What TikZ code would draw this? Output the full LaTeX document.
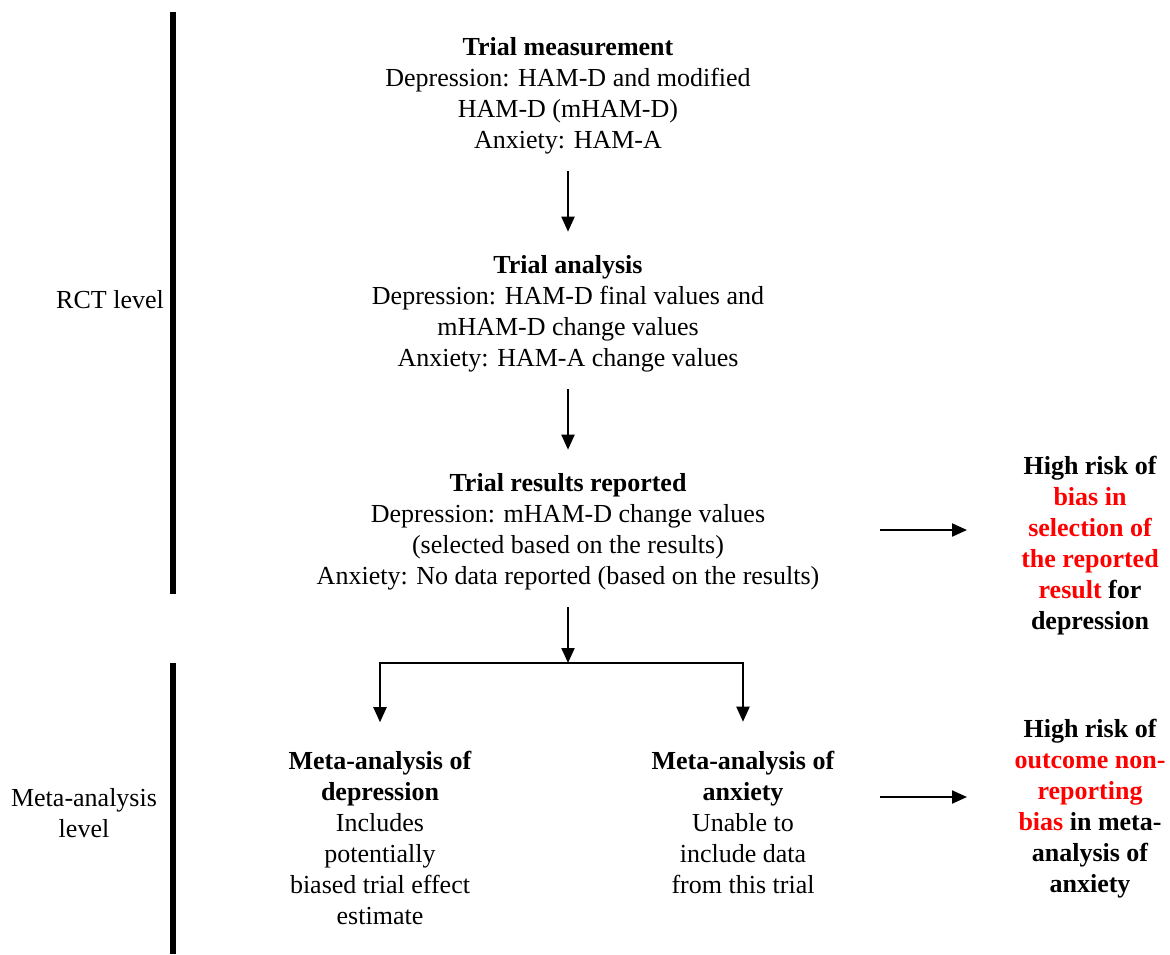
\documentclass[tikz,border=0pt]{standalone}
\usepackage{fontspec}
\setmainfont{Liberation Serif}
\usetikzlibrary{arrows.meta}

\begin{document}
\begin{tikzpicture}[x=0.5pt,y=-0.5pt,>={Triangle[length=7.5pt,width=6.5pt]},line width=1pt,node distance=109pt,every node/.style={font=\fontsize{13}{15.5}\selectfont,align=center},main node/.style={inner sep=8pt},side node/.style={inner sep=0pt,text width=80pt,align=flush center,font=\fontsize{13}{15.5}\selectfont\bfseries},level node/.style={inner sep=0pt},bar/.style={line width=3pt}]
	\useasboundingbox (0,0) rectangle (1170,954);
	\draw[bar] (173,12) -- (173,594);
	\draw[bar] (173,663) -- (173,954);
	\node[level node] (rct) at (110,300) {RCT level};
	\node[level node] (meta) at (84,813) {Meta-analysis\\level};

	\node[main node] (meas) at (568,96) {\textbf{Trial measurement}\\Depression: HAM-D and modified\\HAM-D (mHAM-D)\\Anxiety: HAM-A};
	\node[main node] (anl) [below of=meas] {\textbf{Trial analysis}\\Depression: HAM-D final values and\\mHAM-D change values\\Anxiety: HAM-A change values};
	\node[main node] (res) [below of=anl] {\textbf{Trial results reported}\\Depression: mHAM-D change values\\(selected based on the results)\\Anxiety: No data reported (based on the results)};
	\coordinate (split) at (568,663);
	\node[main node] (dep) at (380,838) {\textbf{Meta-analysis of}\\\textbf{depression}\\Includes\\potentially\\biased trial effect\\estimate};
	\node[main node] (anx) at (743,822) {\textbf{Meta-analysis of}\\\textbf{anxiety}\\Unable to\\include data\\from this trial};
	\node[side node] (risk1) at (1090,546) {High risk of\\\textcolor{red}{bias in}\\\textcolor{red}{selection of}\\\textcolor{red}{the reported}\\\textcolor{red}{result} for\\depression};
	\node[side node] (risk2) at (1090,809) {High risk of\\\textcolor{red}{outcome non-}\\\textcolor{red}{reporting}\\\textcolor{red}{bias} in meta-\\analysis of\\anxiety};
	\coordinate (out1) at (880,530);
	\coordinate (out2) at (880,797);

	\path[->,shorten >=3.5pt]
		(meas) edge (anl)
		(anl) edge (res);
	\draw[->] (res) -- (split);
	\draw[->,shorten >=6pt] (split) -| (dep);
	\draw[->,shorten >=6pt] (split) -| (anx);
	\draw[->,shorten >=21pt] (out1) -- (out1 -| risk1.west);
	\draw[->,shorten >=21pt] (out2) -- (out2 -| risk2.west);
\end{tikzpicture}
\end{document}
